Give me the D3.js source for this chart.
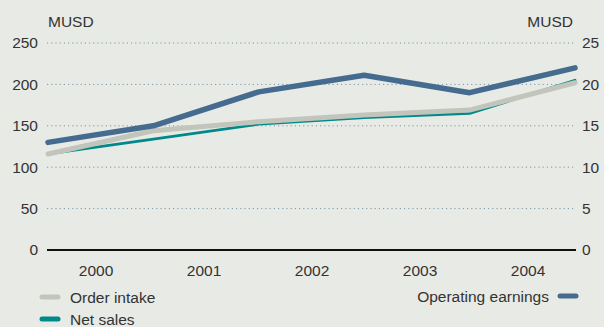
<!DOCTYPE html>
<html><head><meta charset="utf-8">
<script src="https://cdn.jsdelivr.net/npm/d3@7"></script>
<style>
html,body{margin:0;padding:0;background:#e8eae5;}
svg{display:block;font-family:"Liberation Sans",Arial,sans-serif;}
</style></head>
<body>
<svg id="c" width="604" height="327"></svg>
<script>
const years = ["2000","2001","2002","2003","2004"];
const pointIndex = [0,1,2,3,4,5];
const orderIntake = [116,144,155,163,169,202];
const netSales = [116,134,152,160,165,205];
const operatingEarnings = [13.0,15.0,19.1,21.1,19.0,22.0];
const leftTicks = [0,50,100,150,200,250];
const rightTicks = [0,5,10,15,20,25];

const FS = 15.5, TXT = "#333";
const svg = d3.select("#c");
const x = d3.scaleLinear().domain([0,5]).range([48,575]);
const xb = d3.scaleBand().domain(years).range([42,582]);
const yL = d3.scaleLinear().domain([0,250]).range([250,43]);
const yR = d3.scaleLinear().domain([0,25]).range([250,43]);

// gridlines
svg.append("g").selectAll("line").data(leftTicks.filter(d=>d>0)).join("line")
  .attr("x1",47).attr("x2",575).attr("y1",d=>yL(d)).attr("y2",d=>yL(d))
  .attr("stroke","#7d96ab").attr("stroke-width",1).attr("stroke-dasharray","1.2,3");

function styleAxis(g){
  g.select(".domain").remove();
  g.selectAll("text").attr("font-size",FS).attr("fill",TXT).attr("font-family","Liberation Sans, Arial, sans-serif");
}
const gL = svg.append("g").attr("transform","translate(38,0)")
  .call(d3.axisLeft(yL).tickValues(leftTicks).tickSize(0).tickPadding(0));
styleAxis(gL);
const gR = svg.append("g").attr("transform","translate(582,0)")
  .call(d3.axisRight(yR).tickValues(rightTicks).tickSize(0).tickPadding(0));
styleAxis(gR);
const gX = svg.append("g").attr("transform","translate(0,265)")
  .call(d3.axisBottom(xb).tickSize(0).tickPadding(0));
styleAxis(gX);

svg.append("text").attr("x",48).attr("y",27).attr("font-size",FS).attr("fill",TXT).text("MUSD");
svg.append("text").attr("x",573).attr("y",27).attr("text-anchor","end").attr("font-size",FS).attr("fill",TXT).text("MUSD");

// baseline
svg.append("line").attr("x1",47).attr("x2",576).attr("y1",yL(0)).attr("y2",yL(0))
  .attr("stroke","#111").attr("stroke-width",2.2);

const lineL = d3.line().x((d,i)=>x(pointIndex[i])).y(d=>yL(d));
const lineR = d3.line().x((d,i)=>x(pointIndex[i])).y(d=>yR(d));

svg.append("path").datum(netSales).attr("d",lineL).attr("fill","none")
  .attr("stroke","#00898a").attr("stroke-width",2.8).attr("stroke-linecap","round").attr("stroke-linejoin","round");
svg.append("path").datum(orderIntake).attr("d",lineL).attr("fill","none")
  .attr("stroke","#c2c5bc").attr("stroke-width",5).attr("stroke-linecap","round").attr("stroke-linejoin","round");
svg.append("path").datum(operatingEarnings).attr("d",lineR).attr("fill","none")
  .attr("stroke","#456b8e").attr("stroke-width",5.5).attr("stroke-linecap","round").attr("stroke-linejoin","round");

// legend
const leg = [
  {name:"Order intake", color:"#c2c5bc", y:297},
  {name:"Net sales", color:"#00898a", y:319}
];
leg.forEach(l=>{
  svg.append("line").attr("x1",42).attr("x2",58).attr("y1",l.y).attr("y2",l.y)
    .attr("stroke",l.color).attr("stroke-width",5).attr("stroke-linecap","round");
  svg.append("text").attr("x",70).attr("y",l.y+5.5).attr("font-size",FS).attr("fill",TXT).text(l.name);
});
svg.append("line").attr("x1",560).attr("x2",576).attr("y1",296).attr("y2",296)
  .attr("stroke","#456b8e").attr("stroke-width",5).attr("stroke-linecap","round");
svg.append("text").attr("x",549).attr("y",301.5).attr("text-anchor","end").attr("font-size",FS).attr("fill",TXT).text("Operating earnings");
</script>
</body></html>
